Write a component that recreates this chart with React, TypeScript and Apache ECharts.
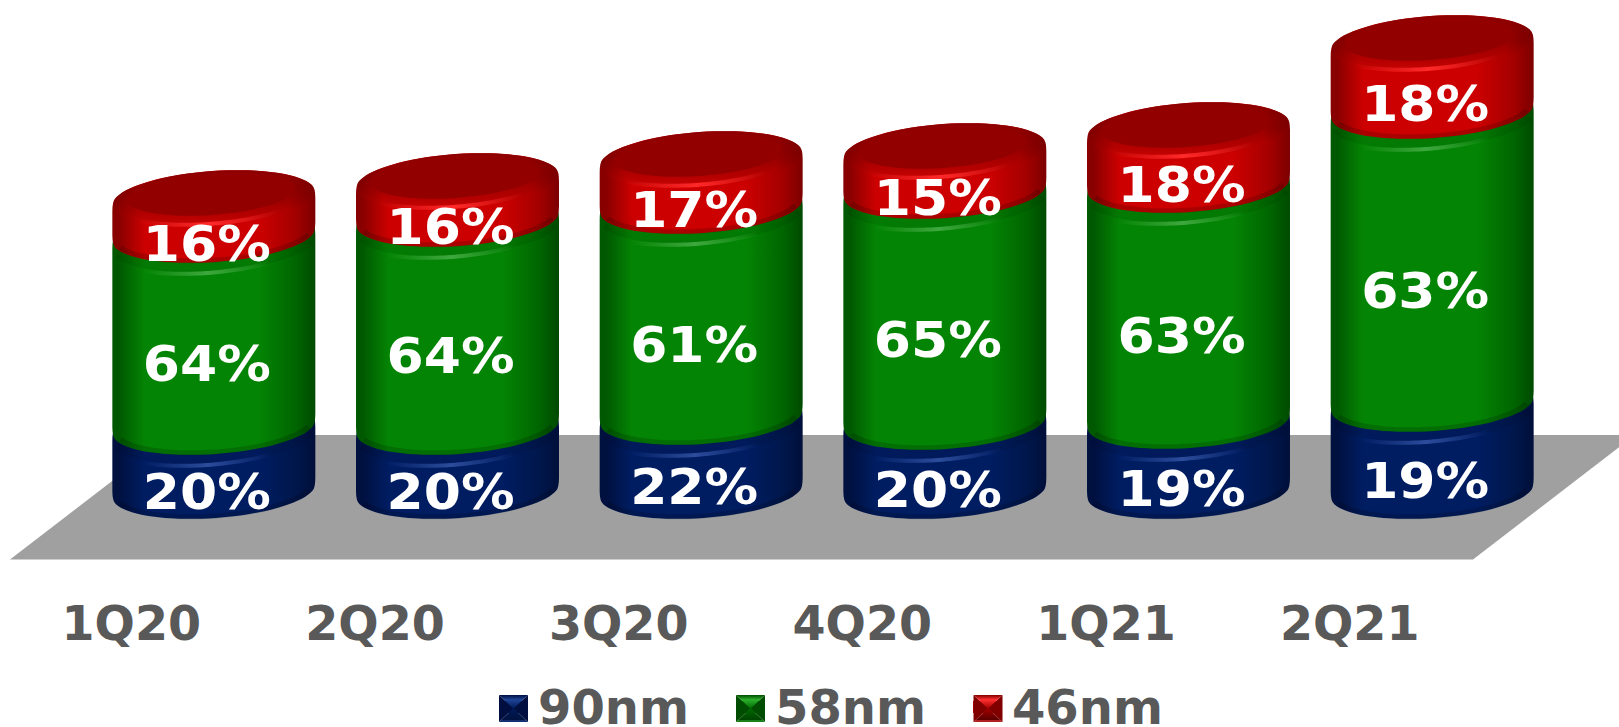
import React, { useEffect, useRef } from "react";
import * as echarts from "echarts";

const quarters = ["1Q20", "2Q20", "3Q20", "4Q20", "1Q21", "2Q21"];
// Visible height of each drum
const heights90nm = [64, 64, 74, 69, 70, 87];
const heights58nm = [192, 208, 211, 231, 236, 293];
const heights46nm = [37, 38, 47, 40, 55, 68];
// Printed shares
const shares90nm = ["20%", "20%", "22%", "20%", "19%", "19%"];
const shares58nm = ["64%", "64%", "61%", "65%", "63%", "63%"];
const shares46nm = ["16%", "16%", "17%", "15%", "18%", "18%"];

const GREY = "#595959";
const FONT = "'DejaVu Sans', sans-serif";
const TILT = 0.07;
const SEMI_MINOR = 27;
const WIDTH_RATIO = 0.4165;
const CORNER = 0.24;

type Palette = {
  name: string;
  base: string;
  edgeL: string;
  edgeR: string;
  shade: string;
  mid: string;
  glow: string;
};
const navy: Palette = { name: "90nm", base: "#001f60", edgeL: "#00103f", edgeR: "#000f3a", shade: "#00174c", mid: "#001d62", glow: "#2c4c9c" };
const green: Palette = { name: "58nm", base: "#048404", edgeL: "#005800", edgeR: "#004a00", shade: "#006600", mid: "#048404", glow: "#3ea83e" };
const red: Palette = { name: "46nm", base: "#c80000", edgeL: "#880000", edgeR: "#7c0000", shade: "#a40000", mid: "#cc0000", glow: "#ff2a2a" };

function ellipsePoint(cx: number, cy: number, a: number, b: number, t: number) {
  const x = a * Math.cos(t);
  const y = b * Math.sin(t);
  return [cx + x * Math.cos(TILT) + y * Math.sin(TILT), cy - x * Math.sin(TILT) + y * Math.cos(TILT)];
}

function arcPoints(cx: number, cy: number, a: number, b: number, t0: number, t1: number, n = 36) {
  const pts: number[][] = [];
  for (let i = 0; i <= n; i++) pts.push(ellipsePoint(cx, cy, a, b, t0 + ((t1 - t0) * i) / n));
  return pts;
}

function toD(pts: number[][], move = true) {
  return pts.map((p, i) => (i === 0 && move ? "M" : "L") + p[0].toFixed(2) + " " + p[1].toFixed(2)).join(" ");
}

function bodyPath(cx: number, yTop: number, yBot: number, a: number, b: number) {
  const top = arcPoints(cx, yTop, a, b, Math.PI + CORNER, 2 * Math.PI - CORNER);
  const bot = arcPoints(cx, yBot, a, b, CORNER, Math.PI - CORNER);
  const tr = top[top.length - 1];
  const br = bot[0];
  const bl = bot[bot.length - 1];
  const tl = top[0];
  const r = cx + a;
  const l = cx - a;
  return (
    toD(top) +
    ` Q ${r} ${tr[1] + 3} ${r} ${tr[1] + 13}` +
    ` L ${r} ${br[1] - 13} Q ${r} ${br[1] - 3} ${br[0]} ${br[1]} ` +
    toD(bot, false) +
    ` Q ${l} ${bl[1] - 3} ${l} ${bl[1] - 13}` +
    ` L ${l} ${tl[1] + 13} Q ${l} ${tl[1] + 3} ${tl[0]} ${tl[1]} Z`
  );
}

function ellipsePath(cx: number, cy: number, a: number, b: number) {
  return toD(arcPoints(cx, cy, a, b, 0, 2 * Math.PI, 72)) + " Z";
}

const hGrad = (stops: [number, string][]) => ({
  type: "linear",
  x: 0,
  y: 0,
  x2: 1,
  y2: 0,
  colorStops: stops.map(([offset, color]) => ({ offset, color })),
});
const vGrad = (stops: [number, string][]) => ({
  type: "linear",
  x: 0,
  y: 0,
  x2: 0,
  y2: 1,
  colorStops: stops.map(([offset, color]) => ({ offset, color })),
});

function glowArc(cx: number, cy: number, a: number, b: number, span: number, width: number, color: string) {
  return {
    type: "path",
    shape: { pathData: toD(arcPoints(cx, cy, a, b, Math.PI / 2 - span, Math.PI / 2 + span)) },
    style: {
      fill: "none",
      lineWidth: width,
      stroke: hGrad([
        [0, color + "00"],
        [0.5, color],
        [1, color + "00"],
      ]),
    },
  };
}

function makeRender(p: Palette, labels: string[], labelDrop: number, cap: boolean) {
  return (params: any, api: any) => {
    const band = api.size([1, 0])[0];
    const a = band * WIDTH_RATIO;
    const b = SEMI_MINOR;
    const cat = api.value(0);
    const [cx, yBot] = api.coord([cat, api.value(1)]);
    const yTop = api.coord([cat, api.value(2)])[1];
    const children: any[] = [];
    children.push({
      type: "path",
      shape: { pathData: bodyPath(cx, yTop, yBot, a, b) },
      style: {
        fill: hGrad([
          [0, p.edgeL],
          [0.03, p.edgeL],
          [0.16, p.mid],
          [0.72, p.mid],
          [0.9, p.shade],
          [1, p.edgeR],
        ]),
      },
    });
    // thin dark lip round the bottom edge
    children.push({
      type: "path",
      shape: { pathData: toD(arcPoints(cx, yBot - 2, a - 3, b, 0.3, Math.PI - 0.3)) },
      style: { fill: "none", stroke: "rgba(0,0,0,0.16)", lineWidth: 5 },
    });
    if (!cap) {
      // shaded shelf under the drum above, with its soft highlight
      children.push({
        type: "path",
        shape: { pathData: toD(arcPoints(cx, yTop + 5, a - 2, b, 0.25, Math.PI - 0.25)) },
        style: { fill: "none", stroke: "rgba(0,0,0,0.07)", lineWidth: 9 },
      });
      children.push(glowArc(cx - 8, yTop + 11, a - 2, b, 0.7, 4, p.glow));
    }
    if (cap) {
      children.push({
        type: "path",
        shape: { pathData: ellipsePath(cx, yTop, a - 1, b) },
        style: {
          fill: vGrad([
            [0, "#8c0000"],
            [0.45, "#960000"],
            [0.8, "#b40000"],
            [1, "#c80404"],
          ]),
        },
      });
      children.push({
        type: "path",
        shape: { pathData: ellipsePath(cx, yTop, a - 1, b) },
        style: {
          fill: hGrad([
            [0, "rgba(110,0,0,0.65)"],
            [0.13, "rgba(110,0,0,0)"],
            [0.87, "rgba(110,0,0,0)"],
            [1, "rgba(110,0,0,0.65)"],
          ]),
        },
      });
      children.push({
        type: "path",
        shape: { pathData: ellipsePath(cx - 3, yTop - 4, a - 17, b - 6) },
        style: { fill: "#920000" },
      });
      children.push(glowArc(cx - 6, yTop - 1, a - 2, b, 0.8, 4, p.glow));
    }
    children.push({
      type: "text",
      x: cx - 7,
      y: (yTop + yBot) / 2 + labelDrop,
      scaleX: 1.07,
      style: {
        text: labels[params.dataIndex],
        x: 0,
        y: 0,
        fill: "#ffffff",
        font: `bold 50px ${FONT}`,
        align: "center",
        verticalAlign: "middle",
      },
    });
    return { type: "group", children };
  };
}

function stackRows(lower: number[][], values: number[]) {
  return values.map((v, i) => {
    const start = lower.reduce((sum, arr) => sum + arr[i], 0);
    return [i, start, start + v];
  });
}

function legendBevel(x: number, y: number, w: number, h: number, top: string, side: string, bottom: string, bright: string, strip: string) {
  const c = [x + w / 2, y + h / 2];
  return [
    { type: "polygon", z: 10, shape: { points: [[x, y], c, [x, y + h]] }, style: { fill: side } },
    { type: "polygon", z: 10, shape: { points: [[x + w, y], c, [x + w, y + h]] }, style: { fill: side } },
    { type: "polygon", z: 10, shape: { points: [[x, y], [x + w, y], c] }, style: { fill: vGrad([[0, side], [0.35, bright], [1, top]]) } },
    { type: "polygon", z: 10, shape: { points: [[x, y + h], c, [x + w, y + h]] }, style: { fill: vGrad([[0, top], [0.84, bottom], [0.86, strip], [1, strip]]) } },
  ];
}

export default function App() {
  const ref = useRef<HTMLDivElement>(null);
  useEffect(() => {
    if (!ref.current) return;
    const chart = echarts.init(ref.current, undefined, { renderer: "svg" });
    const customSeries = (p: Palette, data: number[][], labels: string[], drop: number, cap: boolean) => ({
      type: "custom",
      name: p.name,
      data,
      itemStyle: { color: p.base },
      encode: { x: 0, y: [1, 2] },
      clip: false,
      renderItem: makeRender(p, labels, drop, cap),
    });
    chart.setOption({
      animation: false,
      backgroundColor: "#ffffff",
      grid: { left: 92, width: 1462, top: 0, height: 491 },
      xAxis: {
        type: "category",
        data: quarters,
        axisLine: { show: false },
        axisTick: { show: false },
        splitLine: { show: false },
        axisLabel: {
          interval: 0,
          margin: 108,
          color: GREY,
          fontFamily: FONT,
          fontWeight: "bold",
          fontSize: 47.5,
          padding: [0, 165, 0, 0],
        },
      },
      yAxis: { type: "value", min: 0, max: 491, show: false },
      legend: {
        left: 499,
        top: 683,
        padding: 0,
        itemWidth: 29,
        itemHeight: 12,
        itemGap: 47,
        icon: "rect",
        data: [navy.name, green.name, red.name],
        textStyle: {
          color: GREY,
          fontFamily: FONT,
          fontWeight: "bold",
          fontSize: 48,
          lineHeight: 38,
          padding: [0, 0, 0, 5],
        },
      },
      graphic: [
        {
          type: "polygon",
          z: 0,
          silent: true,
          shape: { points: [[10, 559.5], [1473, 559.5], [1635, 435], [172, 435]] },
          style: { fill: "#a0a0a0" },
        },
        ...legendBevel(499, 695, 29, 27, "#001a58", "#000e40", "#00123f", "#1f4596", "#143070"),
        ...legendBevel(736, 695, 29, 27, "#006a00", "#004c00", "#004400", "#2cb02c", "#1a801a"),
        ...legendBevel(973.5, 695, 29, 27, "#a00000", "#800000", "#5c0000", "#ff3030", "#b02020"),
      ],
      series: [
        customSeries(navy, stackRows([], heights90nm), shares90nm, 33, false),
        customSeries(green, stackRows([heights90nm], heights58nm), shares58nm, 33, false),
        customSeries(red, stackRows([heights90nm, heights58nm], heights46nm), shares46nm, 27, true),
      ],
    });
    return () => chart.dispose();
  }, []);
  return <div ref={ref} style={{ position: "fixed", left: 0, top: 0, width: 1619, height: 727 }} />;
}
